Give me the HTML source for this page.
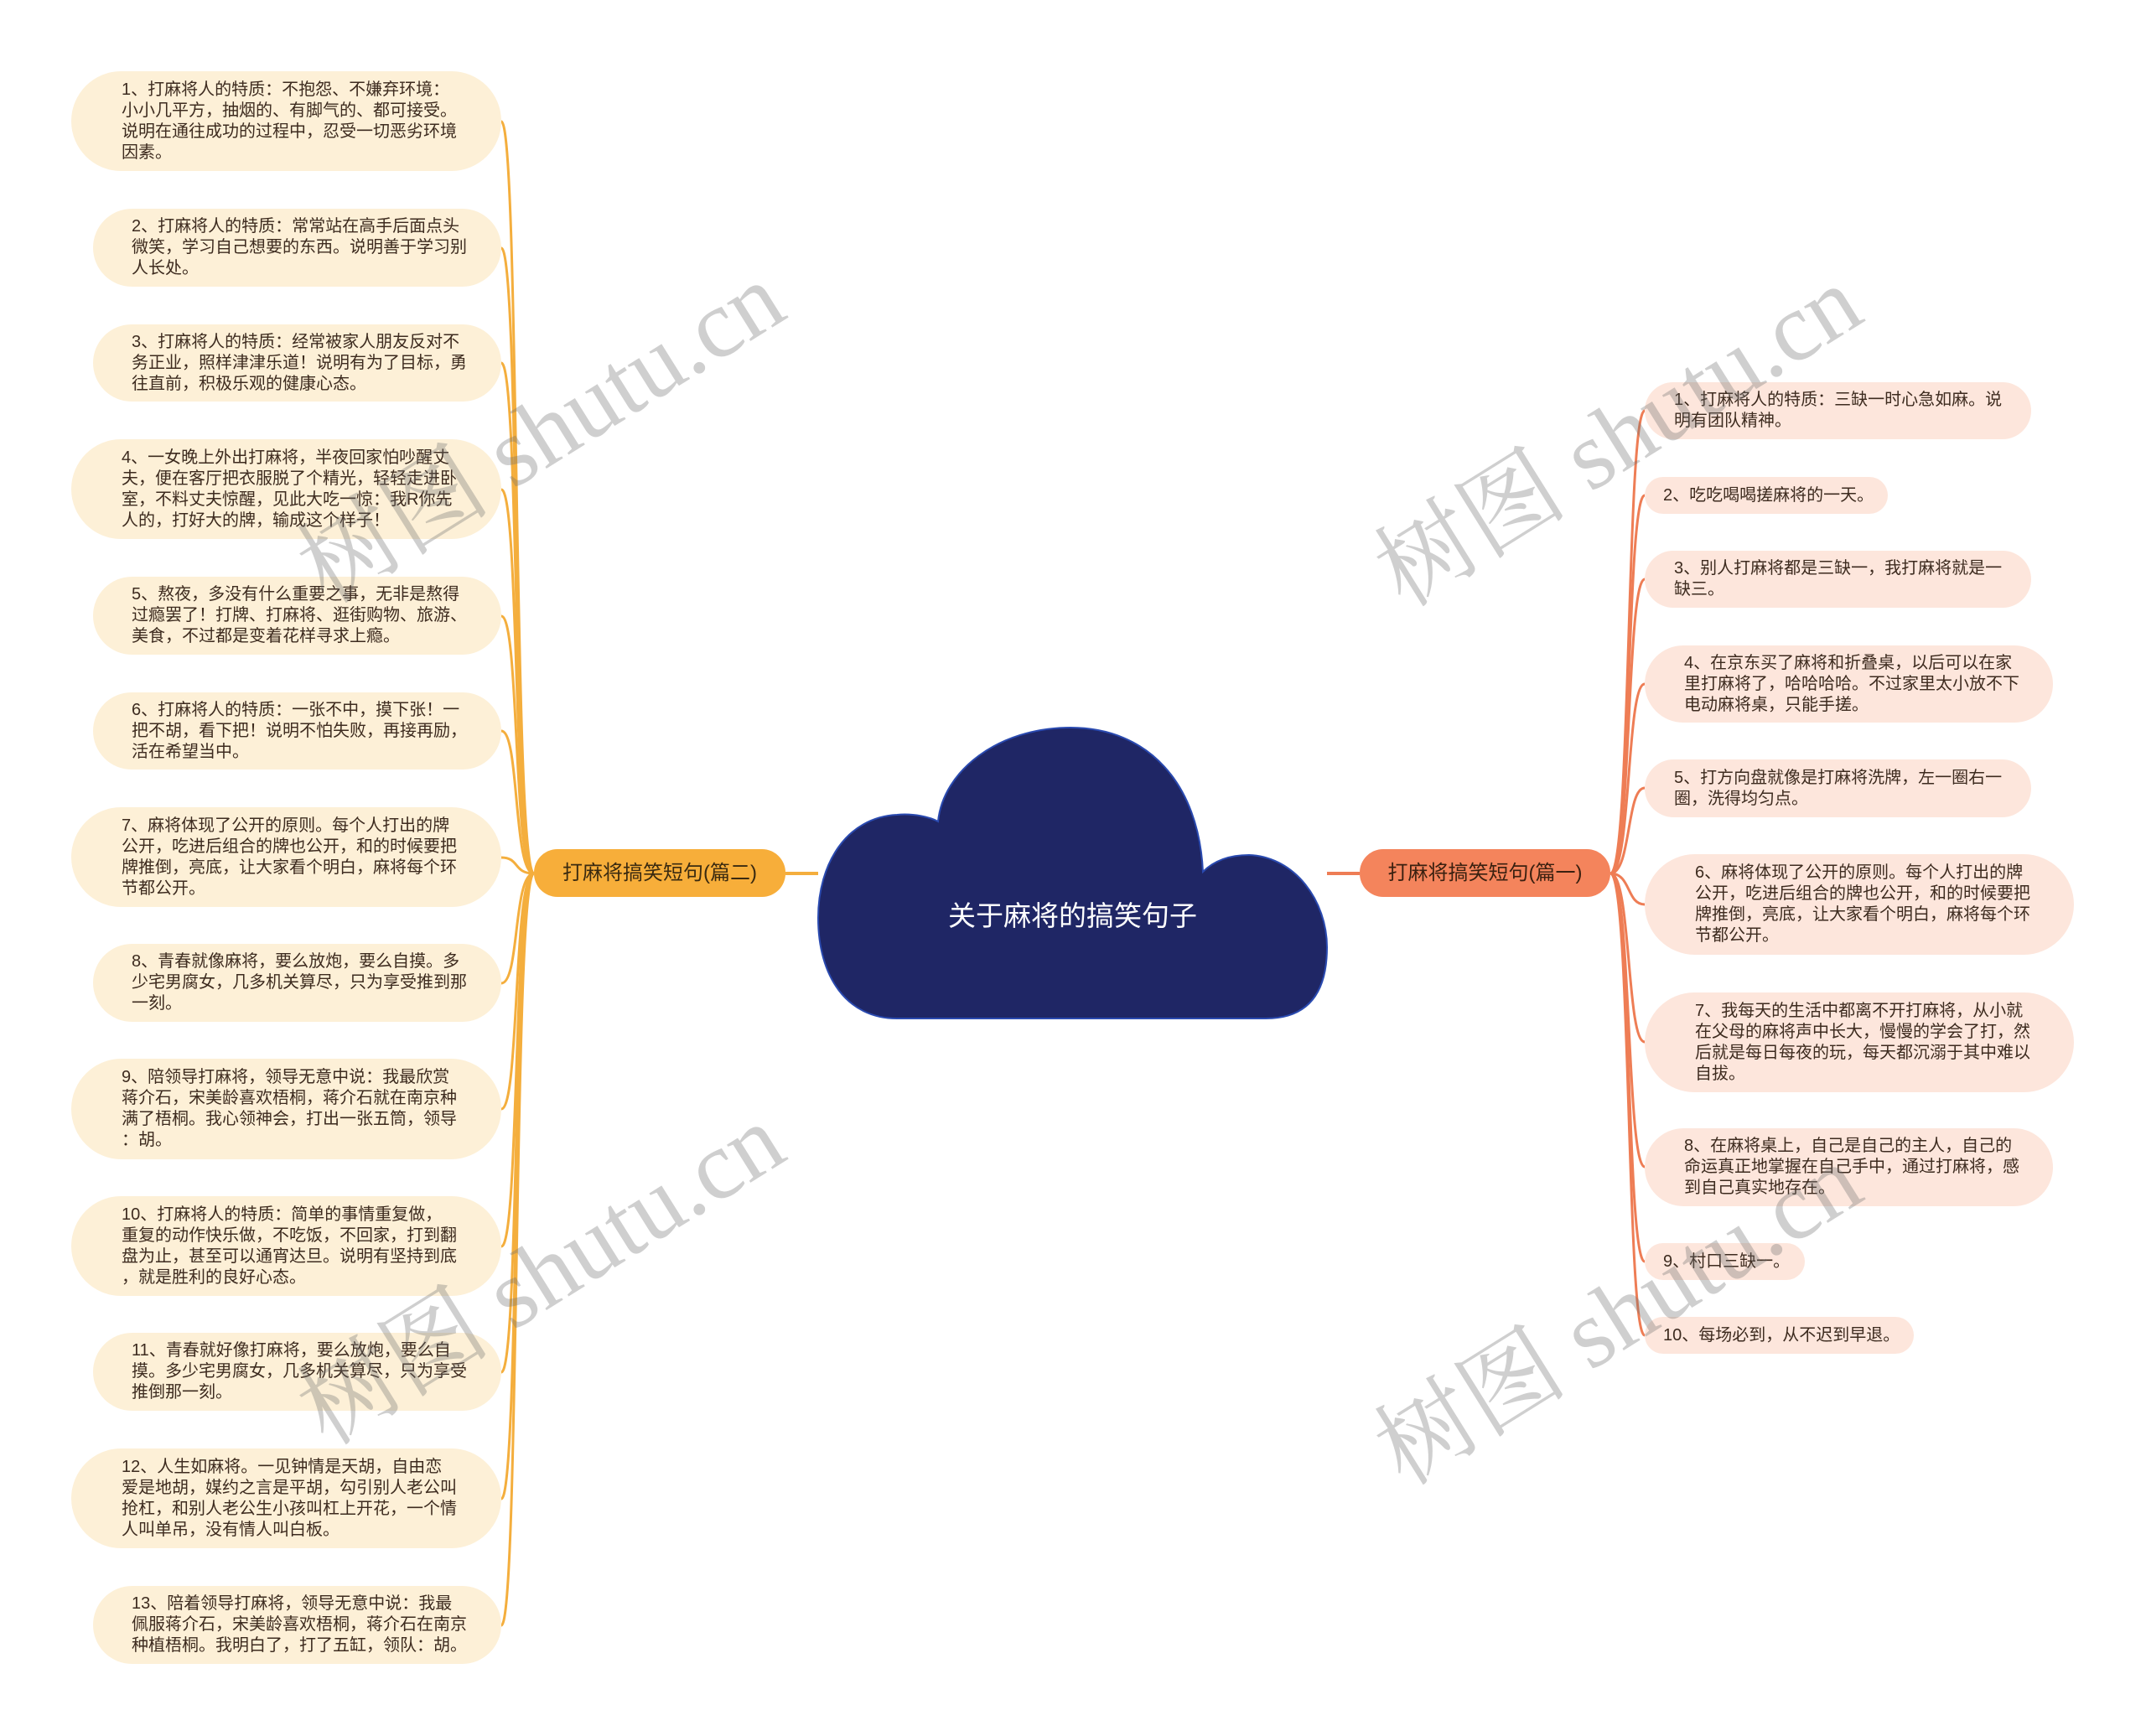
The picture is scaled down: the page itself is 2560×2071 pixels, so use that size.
<!DOCTYPE html>
<html><head><meta charset="utf-8"><style>
body{margin:0;width:2560px;height:2071px;background:#fff;position:relative;overflow:hidden;font-family:"Liberation Sans","Noto Sans CJK SC",sans-serif}
.n{position:absolute;display:flex;align-items:center;box-sizing:border-box;border-radius:60px;font-size:20px;line-height:25px;color:#3d2b1f}
.l{background:#fdf0d7}
.r{background:#fde6dc}
.n div{width:100%;white-space:nowrap}
.wm{position:absolute;font-family:"Liberation Serif","Noto Serif CJK SC",serif;font-size:116px;color:rgba(110,110,110,0.33);white-space:nowrap;transform:translate(-50%,-50%) rotate(-32deg)}
</style></head><body>
<svg width="2560" height="2071" style="position:absolute;left:0;top:0">
<g fill="none" stroke="#F4AE3D" stroke-width="3">
<path d="M637 1042 C612 1042 620 145 598 145"/>
<path d="M637 1042 C612 1042 620 296 598 296"/>
<path d="M637 1042 C612 1042 620 433 598 433"/>
<path d="M637 1042 C612 1042 620 584 598 584"/>
<path d="M637 1042 C612 1042 620 735 598 735"/>
<path d="M637 1042 C612 1042 620 872 598 872"/>
<path d="M637 1042 C612 1042 620 1023 598 1023"/>
<path d="M637 1042 C612 1042 620 1173 598 1173"/>
<path d="M637 1042 C612 1042 620 1323 598 1323"/>
<path d="M637 1042 C612 1042 620 1487 598 1487"/>
<path d="M637 1042 C612 1042 620 1637 598 1637"/>
<path d="M637 1042 C612 1042 620 1788 598 1788"/>
<path d="M637 1042 C612 1042 620 1939 598 1939"/>
<path d="M937 1042 L976 1042" stroke-width="4"/>
</g>
<g fill="none" stroke="#EE7D55" stroke-width="3">
<path d="M1921 1042 C1946 1042 1940 490 1962 490"/>
<path d="M1921 1042 C1946 1042 1940 591 1962 591"/>
<path d="M1921 1042 C1946 1042 1940 691 1962 691"/>
<path d="M1921 1042 C1946 1042 1940 816 1962 816"/>
<path d="M1921 1042 C1946 1042 1940 940 1962 940"/>
<path d="M1921 1042 C1946 1042 1940 1079 1962 1079"/>
<path d="M1921 1042 C1946 1042 1940 1243 1962 1243"/>
<path d="M1921 1042 C1946 1042 1940 1392 1962 1392"/>
<path d="M1921 1042 C1946 1042 1940 1505 1962 1505"/>
<path d="M1921 1042 C1946 1042 1940 1593 1962 1593"/>
<path d="M1583 1042 L1622 1042" stroke-width="4"/>
</g>
<g fill="#1f2665" stroke="#2a4ab0" stroke-width="2">
<path d="M1070 1215 C1010 1215 976 1165 976 1095 C976 1030 1010 975 1070 972 C1090 970 1110 975 1119 980 C1125 920 1190 868 1277 868 C1370 868 1430 935 1435 1040 C1450 1025 1470 1020 1490 1020 C1545 1022 1583 1075 1583 1130 C1583 1185 1560 1215 1510 1215 Z"/>
</g>
</svg>
<div style="position:absolute;left:976px;top:1070px;width:607px;text-align:center;color:#fff;font-size:33px;line-height:46px">关于麻将的搞笑句子</div>
<div class="n" style="left:637px;top:1013px;width:300px;height:57px;background:#F7AE3A;border-radius:28px;justify-content:center;font-size:24px;color:#3a2a10"><div style="text-align:center">打麻将搞笑短句(篇二)</div></div>
<div class="n" style="left:1622px;top:1013px;width:299px;height:57px;background:#F4845C;border-radius:28px;justify-content:center;font-size:24px;color:#3a2010"><div style="text-align:center">打麻将搞笑短句(篇一)</div></div>

<div class="n l" style="left:85px;top:85px;width:513px;height:119px;padding-left:60px"><div>1、打麻将人的特质：不抱怨、不嫌弃环境：<br>小小几平方，抽烟的、有脚气的、都可接受。<br>说明在通往成功的过程中，忍受一切恶劣环境<br>因素。</div></div>
<div class="n l" style="left:111px;top:249px;width:487px;height:93px;padding-left:46px"><div>2、打麻将人的特质：常常站在高手后面点头<br>微笑，学习自己想要的东西。说明善于学习别<br>人长处。</div></div>
<div class="n l" style="left:111px;top:387px;width:487px;height:92px;padding-left:46px"><div>3、打麻将人的特质：经常被家人朋友反对不<br>务正业，照样津津乐道！说明有为了目标，勇<br>往直前，积极乐观的健康心态。</div></div>
<div class="n l" style="left:85px;top:524px;width:513px;height:119px;padding-left:60px"><div>4、一女晚上外出打麻将，半夜回家怕吵醒丈<br>夫，便在客厅把衣服脱了个精光，轻轻走进卧<br>室，不料丈夫惊醒，见此大吃一惊：我R你先<br>人的，打好大的牌，输成这个样子！</div></div>
<div class="n l" style="left:111px;top:688px;width:487px;height:93px;padding-left:46px"><div>5、熬夜，多没有什么重要之事，无非是熬得<br>过瘾罢了！打牌、打麻将、逛街购物、旅游、<br>美食，不过都是变着花样寻求上瘾。</div></div>
<div class="n l" style="left:111px;top:826px;width:487px;height:92px;padding-left:46px"><div>6、打麻将人的特质：一张不中，摸下张！一<br>把不胡，看下把！说明不怕失败，再接再励，<br>活在希望当中。</div></div>
<div class="n l" style="left:85px;top:963px;width:513px;height:119px;padding-left:60px"><div>7、麻将体现了公开的原则。每个人打出的牌<br>公开，吃进后组合的牌也公开，和的时候要把<br>牌推倒，亮底，让大家看个明白，麻将每个环<br>节都公开。</div></div>
<div class="n l" style="left:111px;top:1126px;width:487px;height:93px;padding-left:46px"><div>8、青春就像麻将，要么放炮，要么自摸。多<br>少宅男腐女，几多机关算尽，只为享受推到那<br>一刻。</div></div>
<div class="n l" style="left:85px;top:1263px;width:513px;height:120px;padding-left:60px"><div>9、陪领导打麻将，领导无意中说：我最欣赏<br>蒋介石，宋美龄喜欢梧桐，蒋介石就在南京种<br>满了梧桐。我心领神会，打出一张五筒，领导<br>：胡。</div></div>
<div class="n l" style="left:85px;top:1427px;width:513px;height:119px;padding-left:60px"><div>10、打麻将人的特质：简单的事情重复做，<br>重复的动作快乐做，不吃饭，不回家，打到翻<br>盘为止，甚至可以通宵达旦。说明有坚持到底<br>，就是胜利的良好心态。</div></div>
<div class="n l" style="left:111px;top:1590px;width:487px;height:93px;padding-left:46px"><div>11、青春就好像打麻将，要么放炮，要么自<br>摸。多少宅男腐女，几多机关算尽，只为享受<br>推倒那一刻。</div></div>
<div class="n l" style="left:85px;top:1728px;width:513px;height:119px;padding-left:60px"><div>12、人生如麻将。一见钟情是天胡，自由恋<br>爱是地胡，媒约之言是平胡，勾引别人老公叫<br>抢杠，和别人老公生小孩叫杠上开花，一个情<br>人叫单吊，没有情人叫白板。</div></div>
<div class="n l" style="left:111px;top:1892px;width:487px;height:93px;padding-left:46px"><div>13、陪着领导打麻将，领导无意中说：我最<br>佩服蒋介石，宋美龄喜欢梧桐，蒋介石在南京<br>种植梧桐。我明白了，打了五缸，领队：胡。</div></div>

<div class="n r" style="left:1962px;top:456px;width:461px;height:68px;padding-left:35px"><div>1、打麻将人的特质：三缺一时心急如麻。说<br>明有团队精神。</div></div>
<div class="n r" style="left:1962px;top:569px;width:290px;height:44px;padding-left:22px"><div>2、吃吃喝喝搓麻将的一天。</div></div>
<div class="n r" style="left:1962px;top:657px;width:461px;height:68px;padding-left:35px"><div>3、别人打麻将都是三缺一，我打麻将就是一<br>缺三。</div></div>
<div class="n r" style="left:1962px;top:770px;width:487px;height:92px;padding-left:47px"><div>4、在京东买了麻将和折叠桌，以后可以在家<br>里打麻将了，哈哈哈哈。不过家里太小放不下<br>电动麻将桌，只能手搓。</div></div>
<div class="n r" style="left:1962px;top:906px;width:461px;height:69px;padding-left:35px"><div>5、打方向盘就像是打麻将洗牌，左一圈右一<br>圈，洗得均匀点。</div></div>
<div class="n r" style="left:1962px;top:1019px;width:512px;height:120px;padding-left:60px"><div>6、麻将体现了公开的原则。每个人打出的牌<br>公开，吃进后组合的牌也公开，和的时候要把<br>牌推倒，亮底，让大家看个明白，麻将每个环<br>节都公开。</div></div>
<div class="n r" style="left:1962px;top:1184px;width:512px;height:119px;padding-left:60px"><div>7、我每天的生活中都离不开打麻将，从小就<br>在父母的麻将声中长大，慢慢的学会了打，然<br>后就是每日每夜的玩，每天都沉溺于其中难以<br>自拔。</div></div>
<div class="n r" style="left:1962px;top:1346px;width:487px;height:93px;padding-left:47px"><div>8、在麻将桌上，自己是自己的主人，自己的<br>命运真正地掌握在自己手中，通过打麻将，感<br>到自己真实地存在。</div></div>
<div class="n r" style="left:1962px;top:1483px;width:191px;height:44px;padding-left:22px"><div>9、村口三缺一。</div></div>
<div class="n r" style="left:1962px;top:1571px;width:321px;height:44px;padding-left:22px"><div>10、每场必到，从不迟到早退。</div></div>

<div class="wm" style="left:640px;top:508px">树图 shutu.cn</div>
<div class="wm" style="left:640px;top:1512px">树图 shutu.cn</div>
<div class="wm" style="left:1925px;top:512px">树图 shutu.cn</div>
<div class="wm" style="left:1925px;top:1560px">树图 shutu.cn</div>
</body></html>
